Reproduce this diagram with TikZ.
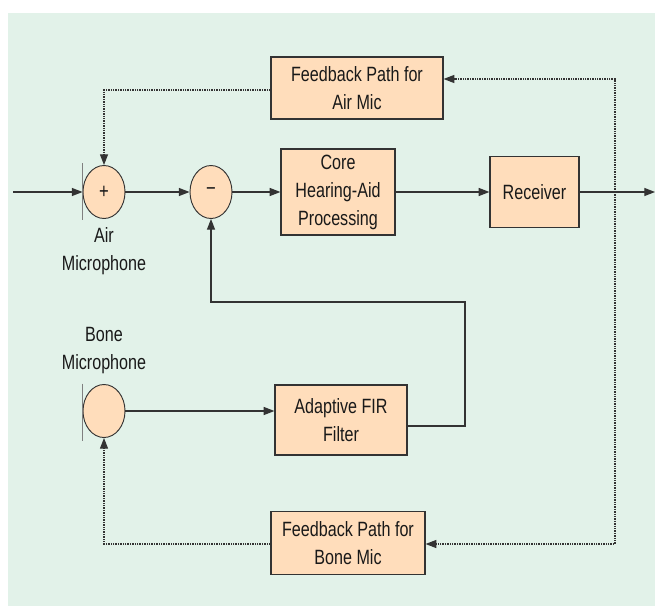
\documentclass[tikz,border=0pt]{standalone}
\usepackage{fontspec}
\setmainfont{Liberation Sans}[FakeStretch=0.78]
\usetikzlibrary{shapes.geometric,arrows.meta}

\definecolor{panel}{HTML}{E2F2E9}
\definecolor{peach}{HTML}{FFDDBB}
\definecolor{wire}{HTML}{333333}

\begin{document}
\begin{tikzpicture}[
    x=0.75pt, y=-0.75pt,
    every node/.style={font=\fontsize{15.5}{21}\selectfont, align=center, text=black!90},
    block/.style={draw=wire, line width=0.9pt, fill=peach, inner sep=0pt},
    mic/.style={ellipse, draw=wire, line width=0.7pt, fill=peach, inner sep=0pt,
        minimum width=31.5pt, minimum height=39.75pt},
    sig/.style={draw=wire, line width=0.9pt, -{Triangle[length=8pt,width=6pt]}},
    fb/.style={draw=wire, line width=0.8pt, dash pattern=on 1pt off 0.8pt,
        -{Triangle[length=8pt,width=6pt]}},
    cone/.style={draw=gray, line width=0.7pt}
]
% panel
\fill[white] (0,0) rectangle (655,606);
\fill[panel] (8,13) rectangle (655,606);
\useasboundingbox (0,0) rectangle (655,606);

% forward path
\node[mic] (sumA) at (104,192) {\fontsize{16}{16}\selectfont +};
\node[mic] (diff) at (211,192) {\fontsize{16}{16}\selectfont −};
\node[block, minimum width=85.5pt, minimum height=64.5pt] (core) at (338,192)
    {Core\\Hearing-Aid\\Processing};
\node[block, minimum width=66.75pt, minimum height=53.25pt] (recv) at (534.5,192) {Receiver};

% bone mic and filter
\node[mic] (bone) at (104,411) {};
\node[block, minimum width=99pt, minimum height=52.5pt] (fir) at (341,420)
    {Adaptive FIR\\Filter};

% feedback blocks
\node[block, minimum width=129pt, minimum height=46.5pt] (fbAir) at (357,88)
    {Feedback Path for\\Air Mic};
\node[block, minimum width=115.5pt, minimum height=47.25pt] (fbBone) at (348,543)
    {Feedback Path for\\Bone Mic};

% labels
\node (airLbl) at (104,251) {Air\\Microphone};
\node (boneLbl) at (104,351) {Bone\\Microphone};

% mic faces
\draw[cone] ([yshift=21.5pt]sumA.west) -- ([yshift=-21pt]sumA.west);
\draw[cone] ([yshift=20.5pt]bone.west) -- ([yshift=-22.5pt]bone.west);

\coordinate (in) at (13,192);
\coordinate (out) at (655,192);
\coordinate (tap) at (615,192);
\coordinate (loopTop) at (465,302);

% signal wires
\draw[sig] (in) -- (sumA.west);
\draw[sig] (sumA.east) -- (diff.west);
\draw[sig] (diff.east) -- (core.west);
\draw[sig] (core.east) -- (recv.west);
\draw[sig] (recv.east) -- (out);
\draw[sig] (bone.east) -- (fir.west |- bone.east);
\draw[sig] ([yshift=-4.5pt]fir.east) -| (loopTop) -| (diff.south);

% acoustic feedback
\draw[fb] (tap) |- ([yshift=6.75pt]fbAir.east);
\draw[fb] ([yshift=-1.5pt]fbAir.west) -| (sumA.north);
\draw[fb] (tap) |- ([yshift=-0.75pt]fbBone.east);
\draw[fb] ([yshift=-0.75pt]fbBone.west) -| (bone.south);
\end{tikzpicture}
\end{document}
